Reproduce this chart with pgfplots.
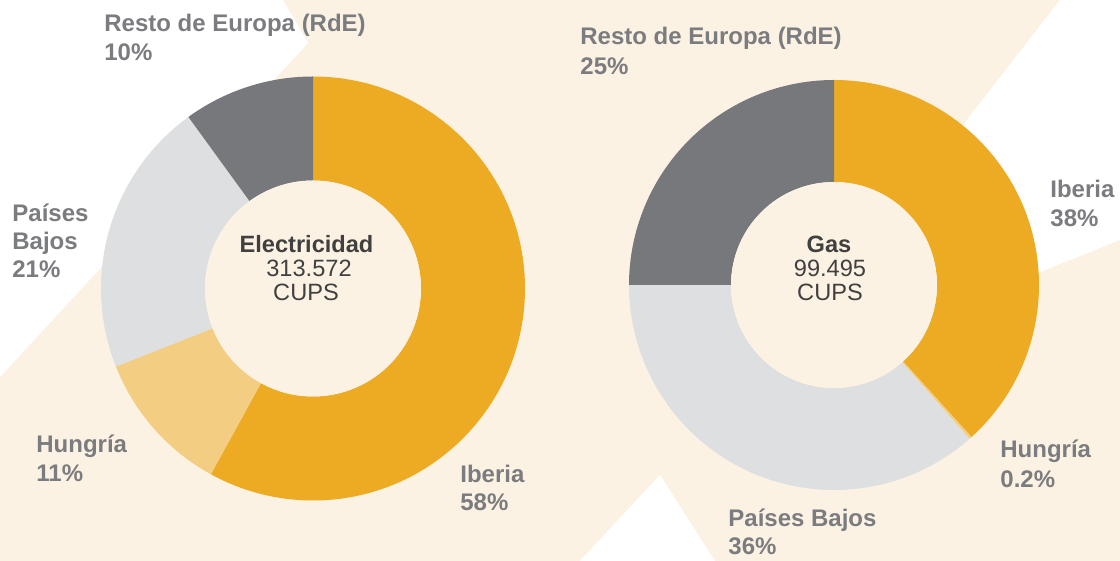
\documentclass[border=0pt]{standalone}
\usepackage{fontspec}
\setmainfont{Liberation Sans}
\usepackage{pgfplots}
\usepackage{pgfplotstable}
\pgfplotsset{compat=1.18}

\definecolor{cream}{HTML}{FCF2E3}
\definecolor{iberia}{HTML}{ECAB23}
\definecolor{hungria}{HTML}{F2CD82}
\definecolor{paises}{HTML}{DEDFE0}
\definecolor{rde}{HTML}{77787B}
\definecolor{lbl}{HTML}{7B7C7F}
\definecolor{ctr}{HTML}{404040}

% shares (%), clockwise from 12 o'clock
\pgfplotstableread{
pct col
58 iberia
11 hungria
21 paises
10 rde
}\elecdata
\pgfplotstableread{
pct col
38.3 iberia
0.2 hungria
36.5 paises
25 rde
}\gasdata

\newcommand\prepdonut[2]{%
  \gdef\cumul{0}%
  \pgfplotstablegetrowsof{#1}%
  \pgfmathtruncatemacro\lastrow{\pgfplotsretval-1}%
  \foreach \i in {0,...,\lastrow}{%
    \pgfplotstablegetelem{\i}{pct}\of#1%
    \pgfmathsetmacro\tmpS{90-3.6*\cumul}%
    \pgfmathsetmacro\tmpE{90-3.6*(\cumul+\pgfplotsretval)}%
    \pgfmathsetmacro\tmpC{\cumul+\pgfplotsretval}%
    \expandafter\xdef\csname #2s\i\endcsname{\tmpS}%
    \expandafter\xdef\csname #2e\i\endcsname{\tmpE}%
    \xdef\cumul{\tmpC}%
    \pgfplotstablegetelem{\i}{col}\of#1%
    \expandafter\xdef\csname #2c\i\endcsname{\pgfplotsretval}%
  }%
}
\prepdonut{\elecdata}{E}
\prepdonut{\gasdata}{G}

% #1 prefix, #2 index, #3 cx, #4 cy, #5 outer radius, #6 inner radius
\newcommand\donutslice[6]{%
  \begin{scope}[shift={(axis cs:#3,#4)}]
    \fill[color=\csname #1c#2\endcsname]
      (\csname #1s#2\endcsname:#5)
      arc[start angle=\csname #1s#2\endcsname, end angle=\csname #1e#2\endcsname, radius=#5]
      -- (\csname #1e#2\endcsname:#6)
      arc[start angle=\csname #1e#2\endcsname, end angle=\csname #1s#2\endcsname, radius=#6]
      -- cycle;
  \end{scope}%
}

\newcommand\lab[3]{\node[anchor=base west, inner sep=0pt, text=lbl,
  font=\bfseries\fontsize{12}{14}\selectfont] at (axis cs:#1,#2) {#3};}
\newcommand\ctrtext[4]{\node[anchor=base, inner sep=0pt, text=ctr,
  font=#4\fontsize{11.8}{14}\selectfont] at (axis cs:#1,#2) {#3};}

\begin{document}
\begin{tikzpicture}
\begin{axis}[
  x=0.5pt, y=0.5pt,
  xmin=0, xmax=1120, ymin=0, ymax=561,
  hide axis, clip=false,
  axis background/.style={fill=cream},
]
% white background shapes
\addplot[draw=none, fill=white] coordinates {(0,561) (283,561) (308,518) (0,184)} -- cycle;
\addplot[draw=none, fill=white] coordinates {(1060,561) (1120,561) (1120,321) (763,178)} -- cycle;
\addplot[draw=none, fill=white] coordinates {(580,0) (660,86) (715,0)} -- cycle;

% donuts
\pgfplotsinvokeforeach{0,1,2,3}{\donutslice{E}{#1}{313}{272.5}{106pt}{54pt}}
\pgfplotsinvokeforeach{0,1,2,3}{\donutslice{G}{#1}{834}{276}{102.5pt}{51.5pt}}
\fill[cream] (axis cs:313,272.5) circle[radius=54pt];
\fill[cream] (axis cs:834,276) circle[radius=51.5pt];

% centre texts
\ctrtext{306.5}{308}{Electricidad}{\bfseries}
\ctrtext{309}{284}{313.572}{}
\ctrtext{306}{260}{CUPS}{}
\ctrtext{829}{308}{Gas}{\bfseries}
\ctrtext{830}{284}{99.495}{}
\ctrtext{830}{260}{CUPS}{}

% labels: electricity
\lab{104}{529}{Resto de Europa (RdE)}
\lab{104}{500}{10\%}
\lab{12}{339}{Países}
\lab{12}{311}{Bajos}
\lab{12}{283}{21\%}
\lab{36}{108}{Hungría}
\lab{36}{79}{11\%}
\lab{460}{78}{Iberia}
\lab{460}{50}{58\%}
% labels: gas
\lab{580}{516}{Resto de Europa (RdE)}
\lab{580}{486}{25\%}
\lab{1050}{363}{Iberia}
\lab{1050}{334}{38\%}
\lab{1000}{103}{Hungría}
\lab{1000}{73}{0.2\%}
\lab{728}{34}{Países Bajos}
\lab{728}{6}{36\%}
\end{axis}
\end{tikzpicture}
\end{document}
